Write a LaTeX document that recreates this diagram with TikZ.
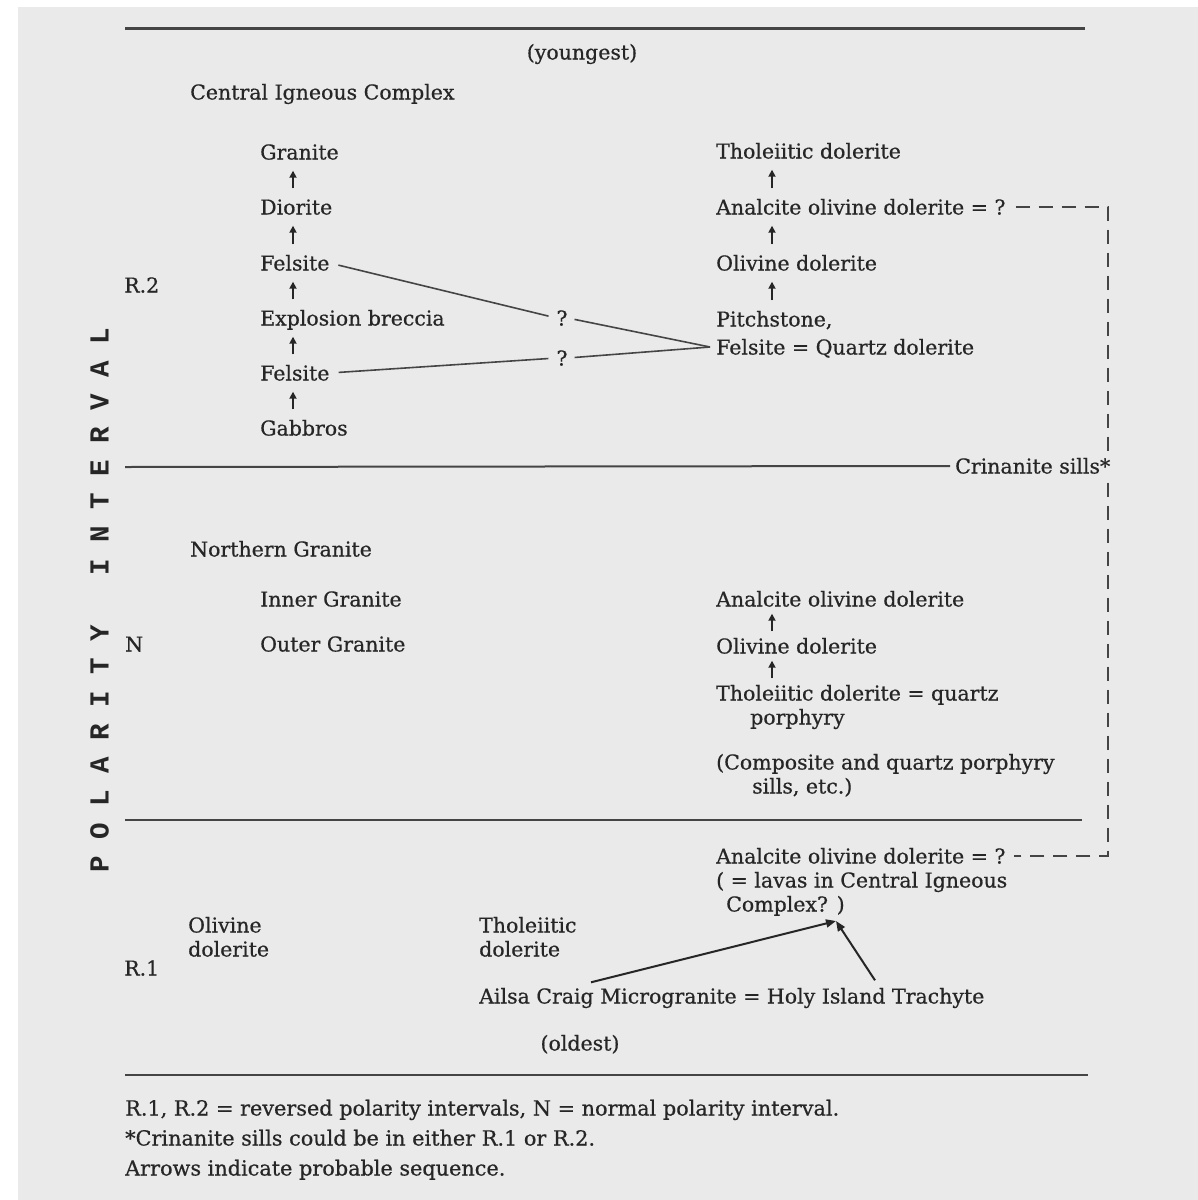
\documentclass[tikz,border=0pt]{standalone}
\usepackage{fontspec}
\usetikzlibrary{arrows.meta}
\setmainfont{DejaVu Serif}[FakeBold=0.6]
\newfontfamily\polfont{Liberation Mono}
\newcommand\rocksize{\fontsize{20.5}{24}\selectfont}
\newcommand\footsize{\fontsize{20.8}{24}\selectfont}
\newcommand\polsize{\polfont\bfseries\fontsize{27.5}{30}\selectfont}
\definecolor{SeqPaper}{HTML}{EAEAEA}
\definecolor{SeqInk}{HTML}{262626}
\definecolor{SeqRule}{HTML}{454545}

\begin{document}
\begin{tikzpicture}[x=1pt,y=-1pt,
  rock/.style={anchor=west,inner sep=0pt,text=SeqInk,font=\rocksize,text height=15pt,text depth=0pt},
  foot/.style={rock,font=\footsize},
  qmark/.style={rock,anchor=center},
  upar/.style={draw=SeqInk,line width=1.7pt,-{Triangle[width=7pt,length=7pt]},shorten <=11pt,shorten >=11pt},
  tie/.style={draw=SeqRule,line width=1.6pt,shorten <=9pt},
  dashln/.style={draw=SeqRule,line width=1.5pt,dash pattern=on 14pt off 9pt},
  rule/.style={draw=SeqRule,line width=2pt},
  bigar/.style={draw=SeqInk,line width=2pt,-{Triangle[width=8pt,length=10pt]}}]
  \useasboundingbox (0,0) rectangle (1198,1200);
  \fill[white] (0,0) rectangle (1198,1200);
  \fill[SeqPaper] (18,7) rectangle (1198,1200);

  \draw[rule,line width=3pt] (125,28) -- (1085,28);
  \node[rock,anchor=center] (young) at (582,52) {(youngest)};
  \node[rock] (cic) at (190,92) {Central Igneous Complex};
  \node[rock] (gra) at (260,152) {Granite};
  \node[rock] (dio) at (260,207) {Diorite};
  \node[rock] (fel1) at (260,263) {Felsite};
  \node[rock] (r2) at (124,285) {R.2};
  \node[rock] (exb) at (260,318) {Explosion breccia};
  \node[rock] (fel2) at (260,373) {Felsite};
  \node[rock] (gab) at (260,428) {Gabbros};
  \node[qmark] (q1) at (562,318) {?};
  \node[qmark] (q2) at (562,358) {?};
  \node[rock] (tho1) at (716,151) {Tholeiitic dolerite};
  \node[rock] (aod1) at (716,207) {Analcite olivine dolerite = ?};
  \node[rock] (old1) at (716,263) {Olivine dolerite};
  \node[rock] (pit) at (716,319) {Pitchstone,};
  \node[rock] (fq) at (716,347) {Felsite = Quartz dolerite};
  \coordinate (tip) at ([xshift=-6pt]fq.west);

  \draw[upar] ([xshift=33pt]dio.north west) -- ([xshift=33pt]gra.south west);
  \draw[upar] ([xshift=33pt]fel1.north west) -- ([xshift=33pt]dio.south west);
  \draw[upar] ([xshift=33pt]exb.north west) -- ([xshift=33pt]fel1.south west);
  \draw[upar] ([xshift=33pt]fel2.north west) -- ([xshift=33pt]exb.south west);
  \draw[upar] ([xshift=33pt]gab.north west) -- ([xshift=33pt]fel2.south west);
  \draw[upar] ([xshift=56pt]aod1.north west) -- ([xshift=56pt]tho1.south west);
  \draw[upar] ([xshift=56pt]old1.north west) -- ([xshift=56pt]aod1.south west);
  \draw[upar] ([xshift=56pt]pit.north west) -- ([xshift=56pt]old1.south west);

  \draw[tie,shorten >=8pt] (fel1.east) -- (q1.west);
  \draw[tie,shorten <=7pt] (q1.east) -- (tip);
  \draw[tie,shorten >=8pt] (fel2.east) -- (q2.west);
  \draw[tie,shorten <=7pt] (q2.east) -- (tip);

  \node[rock] (ngr) at (190,549) {Northern Granite};
  \node[rock] (igr) at (260,599) {Inner Granite};
  \node[rock] (nn) at (125,644) {N};
  \node[rock] (ogr) at (260,644) {Outer Granite};
  \node[rock] (aod2) at (716,599) {Analcite olivine dolerite};
  \node[rock] (old2) at (716,646) {Olivine dolerite};
  \node[rock] (tho2) at (716,693) {Tholeiitic dolerite = quartz};
  \node[rock] (por) at (750,717) {porphyry};
  \node[rock] (cmp) at (716,762) {(Composite and quartz porphyry};
  \node[rock] (sil) at (752,786) {sills, etc.)};
  \draw[upar,shorten <=7pt,shorten >=7pt] ([xshift=56pt]old2.north west) -- ([xshift=56pt]aod2.south west);
  \draw[upar,shorten <=7pt,shorten >=7pt] ([xshift=56pt]tho2.north west) -- ([xshift=56pt]old2.south west);

  \node[rock] (aod3) at (716,856) {Analcite olivine dolerite = ?};
  \node[rock] (lav) at (716,880) {( = lavas in Central Igneous};
  \node[rock] (cpx) at (726,904) {Complex? )};
  \coordinate (dtop) at (1108,207);
  \draw[dashln,shorten <=10pt,shorten >=8pt] (aod1.east) -- (dtop) -- (dtop |- aod3.east) -- (aod3.east);

  \node[rock,fill=SeqPaper,inner xsep=3pt] (crin) at (952,466) {Crinanite sills*};
  \draw[rule,shorten >=2pt] (125,467) -- (crin.west);
  \draw[rule] (125,820) -- (1082,820);

  \node[rock] (olv) at (188,925) {Olivine};
  \node[rock] (dol1) at (188,949) {dolerite};
  \node[rock] (thl) at (479,925) {Tholeiitic};
  \node[rock] (dol2) at (479,949) {dolerite};
  \node[rock] (r1) at (124,968) {R.1};
  \node[rock] (ail) at (479,996) {Ailsa Craig Microgranite = Holy Island Trachyte};
  \coordinate (cxt) at (836,921);
  \draw[bigar] ([xshift=112pt,yshift=6pt]ail.north west) -- (cxt);
  \draw[bigar] ([xshift=396pt,yshift=8pt]ail.north west) -- (cxt);
  \node[rock,anchor=center] (oldest) at (580,1043) {(oldest)};
  \draw[rule] (125,1075) -- (1088,1075);

  \node[foot] (ft1) at (125,1108) {R.1, R.2 = reversed polarity intervals, N = normal polarity interval.};
  \node[foot] (ft2) at (125,1138) {*Crinanite sills could be in either R.1 or R.2.};
  \node[foot] (ft3) at (125,1168) {Arrows indicate probable sequence.};

  \node[rock,anchor=center,rotate=90,font=\polsize] (pol) at (101,600) {P O L A R I T Y~~~I N T E R V A L};
\end{tikzpicture}
\end{document}
